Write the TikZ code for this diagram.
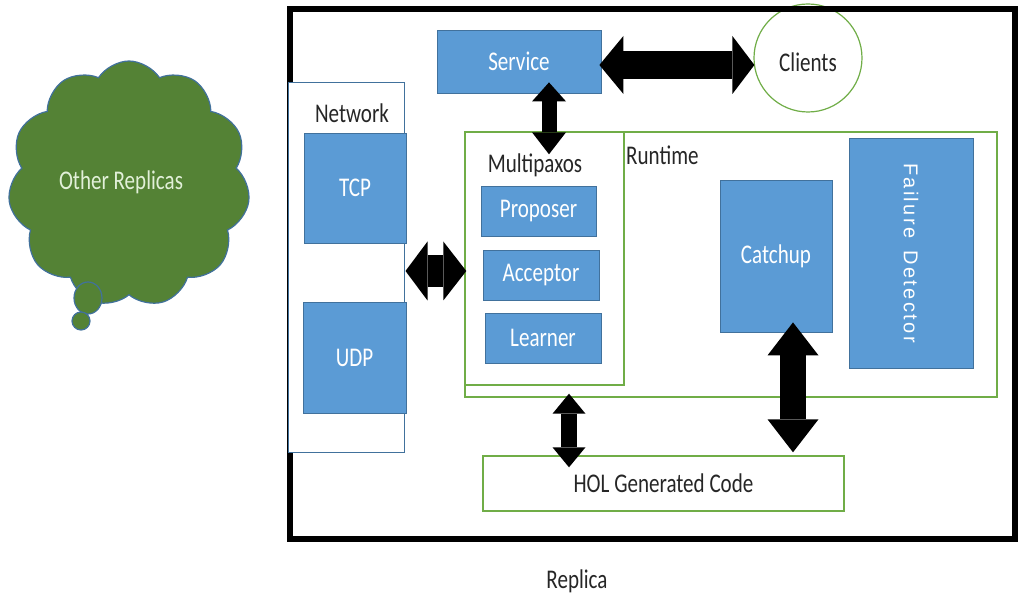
\documentclass[tikz,border=0pt]{standalone}
\usepackage{fontspec}
\setmainfont{Carlito}[FakeStretch=0.78]
\newfontfamily\spacedsans{Liberation Sans}[LetterSpace=12]
\usetikzlibrary{arrows.meta,shapes.symbols}

\definecolor{boxblue}{RGB}{91,155,213}
\definecolor{boxedge}{RGB}{65,113,156}
\definecolor{framegreen}{RGB}{112,173,71}
\definecolor{cloudgreen}{RGB}{84,130,53}
\definecolor{cloudtext}{RGB}{226,240,217}
\definecolor{labelgray}{RGB}{38,38,38}

\tikzset{
  bluebox/.style={draw=boxedge, line width=0.8pt, fill=boxblue, text=white,
    inner sep=0pt, align=center},
  greenframe/.style={draw=framegreen, line width=1.4pt, fill=none, inner sep=0pt},
  caption/.style={text=labelgray, inner sep=0pt, anchor=base},
  fatarrow/.style={draw=black, line width=#1}
}

\begin{document}
\begin{tikzpicture}[x=1pt, y=-1pt, font=\fontsize{27}{30}\selectfont]
\useasboundingbox (0,0) rectangle (1018,593);

% thought cloud with its trailing bubbles
\node[cloud, cloud puffs=11, cloud puff arc=115, aspect=0.98,
      minimum width=242pt, minimum height=246pt, inner sep=0pt,
      fill=cloudgreen, draw=boxedge, line width=1.2pt] (others) at (129,184) {};
\filldraw[fill=cloudgreen, draw=boxedge, line width=1.2pt] (88,298) ellipse [x radius=14, y radius=16];
\filldraw[fill=cloudgreen, draw=boxedge, line width=1.2pt] (81,321) circle [radius=9];
\node[caption, text=cloudtext] (otherslabel) at (121,190) {Other Replicas};

% clients sit partly under the replica frame
\node[circle, draw=framegreen, line width=1.2pt, fill=white, minimum size=108pt,
      inner sep=0pt] (clients) at (808,58) {};
\node[caption] (clientslabel) at (808,72) {Clients};

% replica frame
\draw[line width=6pt] (290,9.5) rectangle (1015,538.5);
\node[caption] (replicalabel) at (577,588) {Replica};

% network layer
\node[draw=boxedge, line width=1pt, fill=white, minimum width=116pt, minimum height=370pt,
      inner sep=0pt] (network) at (346,268) {};
\node[caption] (networklabel) at (352,123) {Network};
\node[bluebox, minimum width=102pt, minimum height=110pt] (tcp) at (355,188) {TCP};
\node[bluebox, minimum width=103pt, minimum height=111pt] (udp) at (354.5,357.5) {UDP};

% service
\node[bluebox, minimum width=164pt, minimum height=63pt] (service) at (519,61.5) {Service};

% runtime and multipaxos
\node[greenframe, minimum width=532pt, minimum height=265pt] (runtime) at (731,264.5) {};
\node[caption, anchor=base west] (runtimelabel) at (626,165) {Runtime};
\node[greenframe, minimum width=159pt, minimum height=253pt] (multipaxos) at (544.5,258.5) {};
\node[caption] (multipaxoslabel) at (535,173) {Multipaxos};
\node[bluebox, minimum width=115pt, minimum height=50pt] (proposer) at (538.5,211) {Proposer};
\node[bluebox, minimum width=116pt, minimum height=50pt] (acceptor) at (541,275) {Acceptor};
\node[bluebox, minimum width=116pt, minimum height=50pt] (learner) at (543,338) {Learner};

\node[bluebox, minimum width=112pt, minimum height=152pt] (catchup) at (776,256) {Catchup};
\node[bluebox, minimum width=124pt, minimum height=230pt] (failure) at (911,253) {};
\node[text=white, rotate=-90, inner sep=0pt, font=\spacedsans\fontsize{20}{22}\selectfont]
  (failurelabel) at (failure.center) {Failure\hspace{0.6em}Detector};

% generated code
\node[greenframe, minimum width=361pt, minimum height=55pt, text=labelgray] (hol) at (663.5,483.5) {HOL Generated Code};

% two-way block arrows
\draw[fatarrow=28pt,
  {Triangle[length=24pt,width=58pt,line width=0pt]}-{Triangle[length=22pt,width=58pt,line width=0pt]}]
  ([xshift=-2pt,yshift=-3.5pt]service.east) -- ([xshift=1pt,yshift=-7pt]clients.west);
\draw[fatarrow=15pt,
  {Triangle[length=19pt,width=34pt,line width=0pt]}-{Triangle[length=22pt,width=34pt,line width=0pt]}]
  ([xshift=30pt,yshift=11pt]service.south) -- ([xshift=4.5pt,yshift=-23pt]multipaxos.north);
\draw[fatarrow=32pt,
  {Triangle[length=22pt,width=59pt,line width=0pt]}-{Triangle[length=23pt,width=59pt,line width=0pt]}]
  ([xshift=1pt,yshift=-3pt]network.east) -- ([xshift=2pt,yshift=-12.5pt]multipaxos.west);
\draw[fatarrow=16pt,
  {Triangle[length=20pt,width=33pt,line width=0pt]}-{Triangle[length=20pt,width=33pt,line width=0pt]}]
  ([xshift=-162pt,yshift=4pt]runtime.south) -- ([xshift=-94.5pt,yshift=-12pt]hol.north);
\draw[fatarrow=26pt,
  {Triangle[length=33pt,width=51pt,line width=0pt]}-{Triangle[length=33pt,width=51pt,line width=0pt]}]
  ([xshift=17pt,yshift=10pt]catchup.south) -- ([xshift=129.5pt,yshift=3pt]hol.north);
\end{tikzpicture}
\end{document}
